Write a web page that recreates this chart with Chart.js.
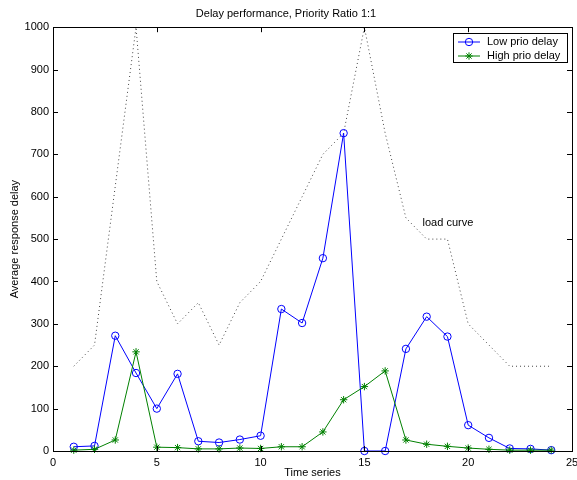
<!DOCTYPE html>
<html>
<head>
<meta charset="utf-8">
<title>Delay performance, Priority Ratio 1:1</title>
<script src="https://cdn.jsdelivr.net/npm/chart.js@4.4.0/dist/chart.umd.min.js"></script>
<style>
  html, body { margin: 0; padding: 0; background: #fff; }
  #wrap { width: 577px; height: 480px; }
</style>
</head>
<body>
<div id="wrap"><canvas id="delayChart"></canvas></div>
<script>
// valeurs
const timeSeries = [1, 2, 3, 4, 5, 6, 7, 8, 9, 10, 11, 12, 13, 14, 15, 16, 17, 18, 19, 20, 21, 22, 23, 24];
const lowPrioDelay = [10, 12, 272, 184, 100, 182, 23, 20, 27, 36, 335, 302, 455, 750, 0, 0, 241, 317, 270, 61, 31, 6, 5, 2];
const highPrioDelay = [2, 4, 26, 234, 9, 8, 5, 5, 7, 6, 10, 10, 45, 121, 152, 189, 26, 16, 11, 7, 4, 2, 2, 2];
const loadCurve = [200, 250, 625, 1000, 400, 300, 350, 250, 350, 400, 500, 600, 700, 750, 1000, 750, 550, 500, 500, 300, 250, 200, 200, 200];
const xTicks = [0, 5, 10, 15, 20, 25];
const yTicks = [0, 100, 200, 300, 400, 500, 600, 700, 800, 900, 1000];

const FONT = 'Liberation Sans, Arial, Helvetica, sans-serif';
Chart.defaults.font.family = FONT;
Chart.defaults.font.size = 11;
Chart.defaults.color = '#000';

function toPoints(ys) {
    return timeSeries.map((x, i) => ({ x: x, y: ys[i] }));
}

// cadre + graduations vers l'intérieur (style MATLAB)
const frameTicks = {
    id: 'frameTicks',
    afterDatasetsDraw(chart) {
        const { ctx, chartArea: a, scales } = chart;
        const len = 5;
        ctx.save();
        ctx.strokeStyle = '#000';
        ctx.lineWidth = 1;
        ctx.beginPath();
        xTicks.forEach(v => {
            const px = Math.round(scales.x.getPixelForValue(v)) + 0.5;
            ctx.moveTo(px, a.bottom); ctx.lineTo(px, a.bottom - len);
            ctx.moveTo(px, a.top); ctx.lineTo(px, a.top + len);
        });
        yTicks.forEach(v => {
            const py = Math.round(scales.y.getPixelForValue(v)) + 0.5;
            ctx.moveTo(a.left, py); ctx.lineTo(a.left + len, py);
            ctx.moveTo(a.right, py); ctx.lineTo(a.right - len, py);
        });
        ctx.stroke();
        ctx.strokeRect(Math.round(a.left) + 0.5, Math.round(a.top) + 0.5,
            Math.round(a.right - a.left), Math.round(a.bottom - a.top));
        ctx.restore();
    }
};

function drawMarker(ctx, style, x, y, r) {
    ctx.beginPath();
    if (style === 'circle') {
        ctx.arc(x, y, r, 0, Math.PI * 2);
    } else {
        for (let k = 0; k < 4; k++) {
            const ang = k * Math.PI / 4;
            ctx.moveTo(x - Math.cos(ang) * r, y - Math.sin(ang) * r);
            ctx.lineTo(x + Math.cos(ang) * r, y + Math.sin(ang) * r);
        }
    }
    ctx.stroke();
}

// légende encadrée dans le coin haut droit + texte "load curve"
const boxLegend = {
    id: 'boxLegend',
    afterDraw(chart) {
        const { ctx, chartArea: a, scales } = chart;
        const items = chart.data.datasets.filter(d => d.inLegend);
        ctx.save();
        ctx.font = '11px ' + FONT;
        const textW = Math.max(...items.map(d => ctx.measureText(d.label).width));
        const w = Math.round(34 + textW + 7);
        const h = 29;
        const right = Math.round(a.right) - 5;
        const left = right - w;
        const top = Math.round(a.top) + 6;
        ctx.fillStyle = '#fff';
        ctx.fillRect(left, top, w, h);
        ctx.strokeStyle = '#000';
        ctx.lineWidth = 1;
        ctx.strokeRect(left + 0.5, top + 0.5, w, h);
        items.forEach((d, i) => {
            const y = top + 9 + i * 14;
            ctx.strokeStyle = d.borderColor;
            ctx.lineWidth = 1;
            ctx.beginPath();
            ctx.moveTo(left + 5, y); ctx.lineTo(left + 27, y);
            ctx.stroke();
            drawMarker(ctx, d.pointStyle, left + 16, y, d.pointRadius);
            ctx.fillStyle = '#000';
            ctx.textAlign = 'left';
            ctx.textBaseline = 'middle';
            ctx.fillText(d.label, left + 34, y);
        });
        ctx.fillStyle = '#000';
        ctx.textAlign = 'left';
        ctx.textBaseline = 'middle';
        ctx.fillText('load curve', scales.x.getPixelForValue(17.8), scales.y.getPixelForValue(538));
        ctx.restore();
    }
};

new Chart(document.getElementById('delayChart'), {
    type: 'line',
    data: {
        datasets: [
            {
                label: 'Low prio delay',
                inLegend: true,
                data: toPoints(lowPrioDelay),
                borderColor: '#0000ff',
                backgroundColor: 'transparent',
                borderWidth: 1,
                pointStyle: 'circle',
                pointRadius: 3.7,
                pointBorderWidth: 1,
                pointBackgroundColor: 'transparent',
                pointBorderColor: '#0000ff',
                tension: 0,
                clip: false,
                order: 1
            },
            {
                label: 'High prio delay',
                inLegend: true,
                data: toPoints(highPrioDelay),
                borderColor: '#008000',
                backgroundColor: 'transparent',
                borderWidth: 1,
                pointStyle: 'star',
                pointRadius: 3.7,
                pointBorderWidth: 1,
                pointBorderColor: '#008000',
                tension: 0,
                clip: false,
                order: 0
            },
            {
                label: 'load curve',
                inLegend: false,
                data: toPoints(loadCurve),
                borderColor: '#444',
                borderWidth: 1,
                borderDash: [1, 3],
                pointRadius: 0,
                tension: 0,
                clip: false,
                order: 2
            }
        ]
    },
    options: {
        responsive: true,
        maintainAspectRatio: false,
        animation: false,
        events: [],
        layout: { padding: { left: 0, right: 5, top: 0, bottom: 0 } },
        scales: {
            x: {
                type: 'linear',
                min: 0,
                max: 25,
                grid: { display: false, drawTicks: false },
                border: { display: false },
                afterBuildTicks: s => { s.ticks = xTicks.map(v => ({ value: v })); },
                afterFit: s => { s.height = 29; s.paddingLeft = 0; s.paddingRight = 0; },
                ticks: { padding: 5, maxRotation: 0, autoSkip: false, color: '#000', font: { size: 11 }, callback: v => String(v) },
                title: { display: true, text: 'Time series', color: '#000', font: { size: 11 }, padding: { top: 0, bottom: 0 } }
            },
            y: {
                min: 0,
                max: 1000,
                grid: { display: false, drawTicks: false },
                border: { display: false },
                afterBuildTicks: s => { s.ticks = yTicks.map(v => ({ value: v })); },
                afterFit: s => { s.width = 53; s.paddingTop = 0; s.paddingBottom = 0; },
                ticks: { padding: 4, autoSkip: false, color: '#000', font: { size: 11 }, callback: v => String(v) },
                title: { display: true, text: 'Average response delay', color: '#000', font: { size: 11 }, padding: { top: 8, bottom: 0 } }
            }
        },
        plugins: {
            legend: { display: false },
            tooltip: { enabled: false },
            title: {
                display: true,
                text: 'Delay performance, Priority Ratio 1:1',
                color: '#000',
                font: { size: 11, weight: 'normal' },
                padding: { top: 7, bottom: 7 }
            }
        }
    },
    plugins: [frameTicks, boxLegend]
});
</script>
</body>
</html>
